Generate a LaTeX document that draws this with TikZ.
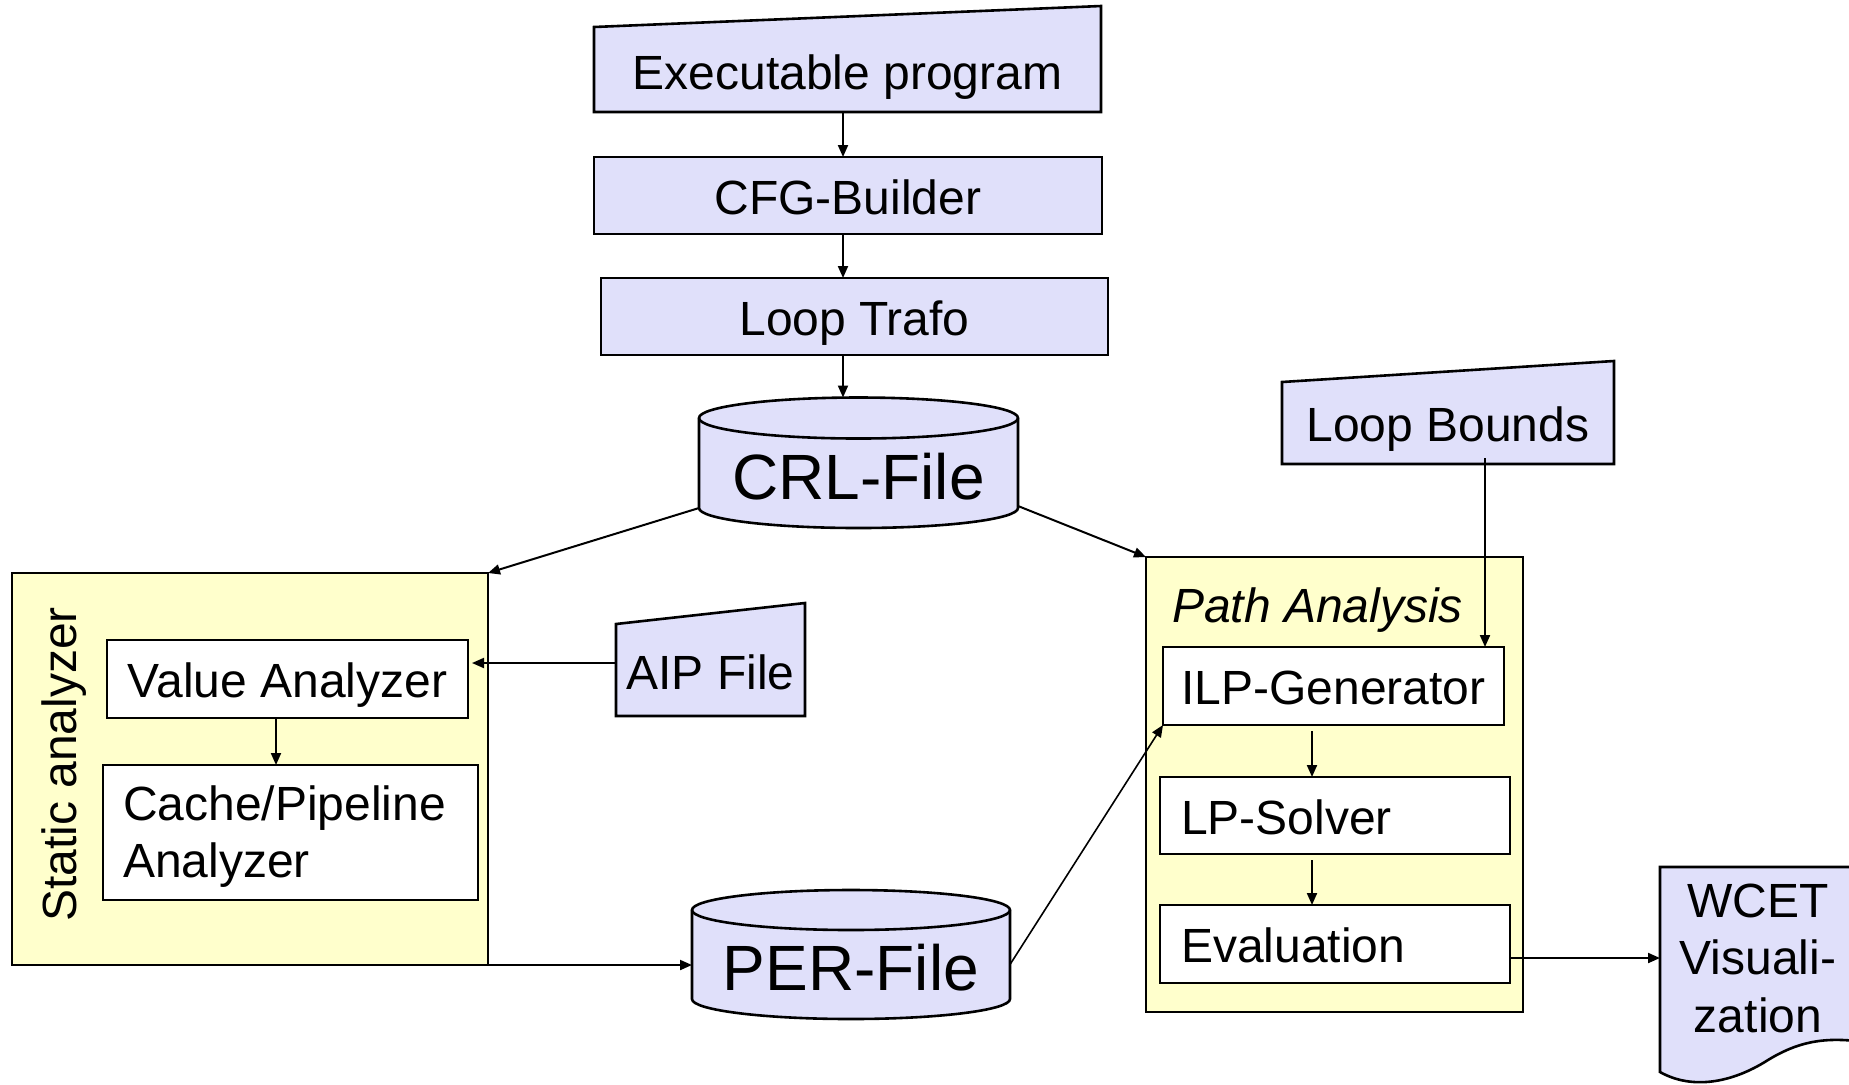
\documentclass[tikz,border=0pt]{standalone}
\usepackage{fontspec}
\setmainfont{Liberation Sans}
\usetikzlibrary{arrows.meta,backgrounds}
\definecolor{lav}{RGB}{224,224,250}
\definecolor{sand}{RGB}{255,255,204}
\tikzset{
  txt/.style={inner sep=0pt, outer sep=0pt, font=\fontsize{24}{28.8}\selectfont,
              text height=18.5pt, text depth=0pt},
  plainbox/.style={txt, draw, line width=1.3pt, fill=white},
  lavbox/.style={txt, draw, line width=1.3pt, fill=lav},
  groupbox/.style={draw, line width=1.3pt, fill=sand, inner sep=0pt, outer sep=0pt},
  bigtxt/.style={txt, font=\fontsize{32}{38.4}\selectfont, text height=26pt},
  outline/.style={draw, line width=1.3pt, fill=lav},
  arr/.style={line width=1pt, -{Triangle[length=6pt,width=5pt]}},
}
\begin{document}
\begin{tikzpicture}[x=0.5pt,y=-0.5pt]
\useasboundingbox (0,0) rectangle (1849,1084);

% tool chain
\node[txt, minimum width=253.5pt, minimum height=42.5pt, text height=19.5pt] (exec) at (847.5,69.5) {Executable program};
\node[lavbox, minimum width=254pt, minimum height=38.5pt] (cfg) at (848,195.5) {CFG-Builder};
\node[lavbox, minimum width=253.5pt, minimum height=38.5pt] (loop) at (854.5,316.5) {Loop Trafo};
\node[bigtxt, minimum width=159.5pt, minimum height=55pt] (crl) at (858.5,473) {CRL-File};
\node[bigtxt, minimum width=159pt, minimum height=54.5pt] (per) at (851,964.5) {PER-File};

% static analyzer group
\node[groupbox, minimum width=238pt, minimum height=196pt] (sa) at (250,769) {};
\node[txt, rotate=90, anchor=base] (satitle) at (76,764.5) {Static analyzer};
\node[plainbox, minimum width=180.5pt, minimum height=39pt] (va) at (287.5,679) {Value Analyzer};
\node[plainbox, minimum width=187.5pt, minimum height=67.5pt, text width=167.5pt, align=left,
      inner xsep=10pt, text height=16.3pt, text depth=28.8pt] (cache) at (290.5,832.5) {Cache/Pipeline\\Analyzer};
\node[txt, minimum width=94.5pt, minimum height=46pt, text height=19pt] (aip) at (710.5,670) {AIP File};

% path analysis group
\node[txt, minimum width=166pt, minimum height=41pt, text height=18pt] (lb) at (1448,423) {Loop Bounds};
\node[groupbox, minimum width=188.5pt, minimum height=227.5pt] (pa) at (1334.5,784.5) {};
\node[txt, anchor=base west, font=\fontsize{24}{28.8}\selectfont\itshape] (patitle) at (1172,622) {Path Analysis};
\node[plainbox, minimum width=170.5pt, minimum height=39pt] (ilp) at (1333.5,686) {ILP-Generator};
\node[plainbox, minimum width=175pt, minimum height=38.5pt, text width=154pt, align=left, inner xsep=10.5pt] (lp) at (1335,815.5) {LP-Solver};
\node[plainbox, minimum width=175pt, minimum height=39pt, text width=154pt, align=left, inner xsep=10.5pt] (eval) at (1335,944) {Evaluation};
\node[txt, text width=98pt, align=center, text height=17pt, text depth=57.6pt] (wcet) at (1758,957.6) {WCET\\Visuali-\\zation};

% outlines of the input files, data bases and the output document
\begin{pgfonlayer}{background}
  \path[outline] (exec.south west) -- (exec.south east) -- ([yshift=10.5pt]exec.north east) -- (exec.north west) -- cycle;
  \path[outline] (aip.south west) -- (aip.south east) -- ([yshift=10.5pt]aip.north east) -- (aip.north west) -- cycle;
  \path[outline] (lb.south west) -- (lb.south east) -- ([yshift=10.5pt]lb.north east) -- (lb.north west) -- cycle;
  \path[outline] (crl.north west) -- ([yshift=10pt]crl.south west)
      arc[start angle=180, end angle=360, x radius=79.75pt, y radius=10pt]
      -- (crl.north east) arc[start angle=0, end angle=180, x radius=79.75pt, y radius=10.25pt] -- cycle;
  \draw[line width=1.3pt] (crl.north west) arc[start angle=180, end angle=360, x radius=79.75pt, y radius=10.25pt];
  \path[outline] (per.north west) -- ([yshift=10pt]per.south west)
      arc[start angle=180, end angle=360, x radius=79.5pt, y radius=10pt]
      -- (per.north east) arc[start angle=0, end angle=180, x radius=79.5pt, y radius=10pt] -- cycle;
  \draw[line width=1.3pt] (per.north west) arc[start angle=180, end angle=360, x radius=79.5pt, y radius=10pt];
  \path[outline] ([yshift=8pt]wcet.north west) -- (1864,867) -- (1864,1042)
      .. controls (1822,1036) and (1796,1043) .. (1768,1060)
      .. controls (1732,1083) and (1692,1090) .. (wcet.west |- 0,1072) -- cycle;
\end{pgfonlayer}

% connectors
\draw[arr] ([xshift=-2.25pt]exec.south) -- ([xshift=-2.25pt]exec.south |- cfg.north);
\draw[arr] ([xshift=-2.5pt]cfg.south) -- ([xshift=-2.5pt]cfg.south |- loop.north);
\draw[arr] ([xshift=-5.75pt]loop.south) -- ([xshift=-5.75pt,yshift=10.25pt]loop.south |- crl.north);
\draw[arr] ([yshift=10pt]crl.south west) -- (sa.north east);
\draw[arr] ([yshift=11pt]crl.south east) -- (pa.north west);
\draw[arr] ([yshift=3.5pt]aip.west) -- ([yshift=3.5pt,xshift=2pt]aip.west -| va.east);
\draw[arr] ([xshift=-5.75pt]va.south) -- ([xshift=-5.75pt]va.south |- cache.north);
\draw[arr] (sa.south east) -- (sa.south east -| per.west);
\draw[arr, line width=0.8pt] (per.east) -- (ilp.south west);
\draw[arr] ([xshift=-9.5pt,yshift=3pt]ilp.north east |- lb.south) -- ([xshift=-9.5pt]ilp.north east);
\draw[arr] ([xshift=-10.75pt,yshift=-3pt]ilp.south) -- ([xshift=-10.75pt]ilp.south |- lp.north);
\draw[arr] ([xshift=-11.5pt,yshift=-3pt]lp.south) -- ([xshift=-11.5pt]lp.south |- eval.north);
\draw[arr] ([yshift=-7pt]eval.east) -- ([yshift=-7pt]eval.east -| wcet.west);
\end{tikzpicture}
\end{document}
